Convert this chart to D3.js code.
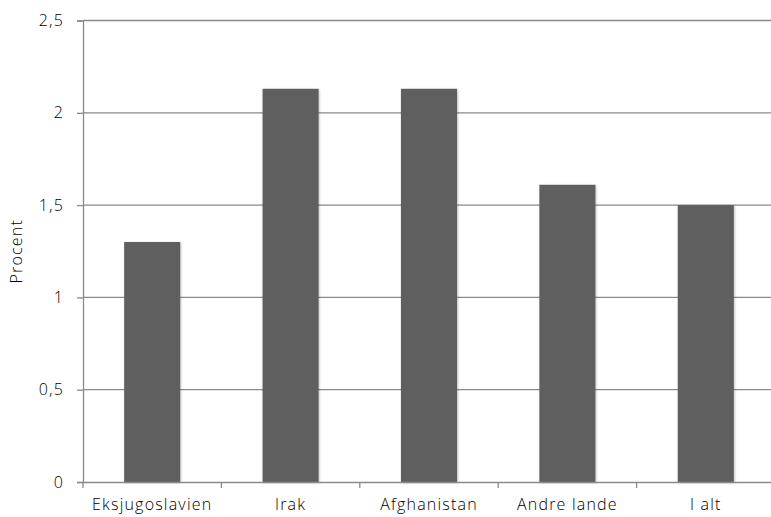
<!DOCTYPE html>
<html><head><meta charset="utf-8">
<script src="https://cdn.jsdelivr.net/npm/d3@7"></script>
<style>body{margin:0;background:#fff}text{font-family:"Open Sans",sans-serif;fill:#000;font-weight:300}</style>
</head><body>
<svg id="c" width="771" height="517"></svg>
<script>
const categories = ["Eksjugoslavien","Irak","Afghanistan","Andre lande","I alt"];
const values = [1.3, 2.13, 2.13, 1.61, 1.5];
const yTicks = [0, 0.5, 1, 1.5, 2, 2.5];
const yLabel = "Procent";

const svg = d3.select("#c");
const m = {l:83, r:-4, t:20.5, b:35};
const W = 771, H = 517;
const FS = 16, LS = "1.2px";
const x = d3.scaleBand().domain(categories).range([m.l, W - m.r]).paddingInner(0.595).paddingOuter(0.2975);
const xb = d3.scaleBand().domain(categories).range([m.l, W - m.r]);
const y = d3.scaleLinear().domain([0, 2.5]).range([H - m.b, m.t]);

const defs = svg.append("defs");
const f = defs.append("filter").attr("id","sh").attr("x","-20%").attr("y","-10%").attr("width","140%").attr("height","120%");
f.append("feDropShadow").attr("dx",0.8).attr("dy",0.8).attr("stdDeviation",1).attr("flood-color","#000").attr("flood-opacity",0.25);

// gridlines
svg.append("g").selectAll("line").data(yTicks.filter(d=>d>0)).join("line")
  .attr("x1", m.l).attr("x2", W).attr("y1", d=>y(d)).attr("y2", d=>y(d))
  .attr("stroke","#8a8a8a").attr("stroke-width",1.3);

// y axis
const ya = svg.append("g").attr("transform",`translate(${m.l},0)`)
  .call(d3.axisLeft(y).tickValues(yTicks).tickSize(6).tickPadding(13).tickFormat(d=>String(d).replace(".",",")));
ya.select(".domain").attr("stroke","#8a8a8a").attr("stroke-width",1.3);
ya.selectAll(".tick line").attr("stroke","#8a8a8a").attr("stroke-width",1.3);
ya.selectAll("text").attr("font-size",FS).attr("font-family","Open Sans").attr("font-weight",300).attr("fill","#000").attr("letter-spacing",LS);

// bars
svg.append("g").selectAll("rect").data(values).join("rect")
  .attr("x",(d,i)=>x(categories[i])).attr("width",x.bandwidth())
  .attr("y",d=>y(d)).attr("height",d=>y(0)-y(d))
  .attr("fill","#5f5f5f").attr("filter","url(#sh)");

// x axis
const xa = svg.append("g").attr("transform",`translate(0,${y(0)})`)
  .call(d3.axisBottom(xb).tickSize(0).tickPadding(17));
xa.select(".domain").attr("stroke","#8a8a8a").attr("stroke-width",1.3);
xa.selectAll("text").attr("font-size",FS).attr("font-family","Open Sans").attr("font-weight",300).attr("fill","#000").attr("letter-spacing",LS);
// band boundary ticks
const bounds = categories.map(c => xb(c));
svg.append("g").selectAll("line").data(bounds).join("line")
  .attr("x1",d=>d).attr("x2",d=>d)
  .attr("y1",y(0)).attr("y2",y(0)+6).attr("stroke","#8a8a8a").attr("stroke-width",1.3);

svg.append("text").attr("transform",`translate(22,${(y(0)+y(2.5))/2}) rotate(-90)`)
  .attr("text-anchor","middle").attr("font-size",FS).attr("font-weight",300).attr("fill","#000").attr("letter-spacing",LS).text(yLabel);
</script>
</body></html>
